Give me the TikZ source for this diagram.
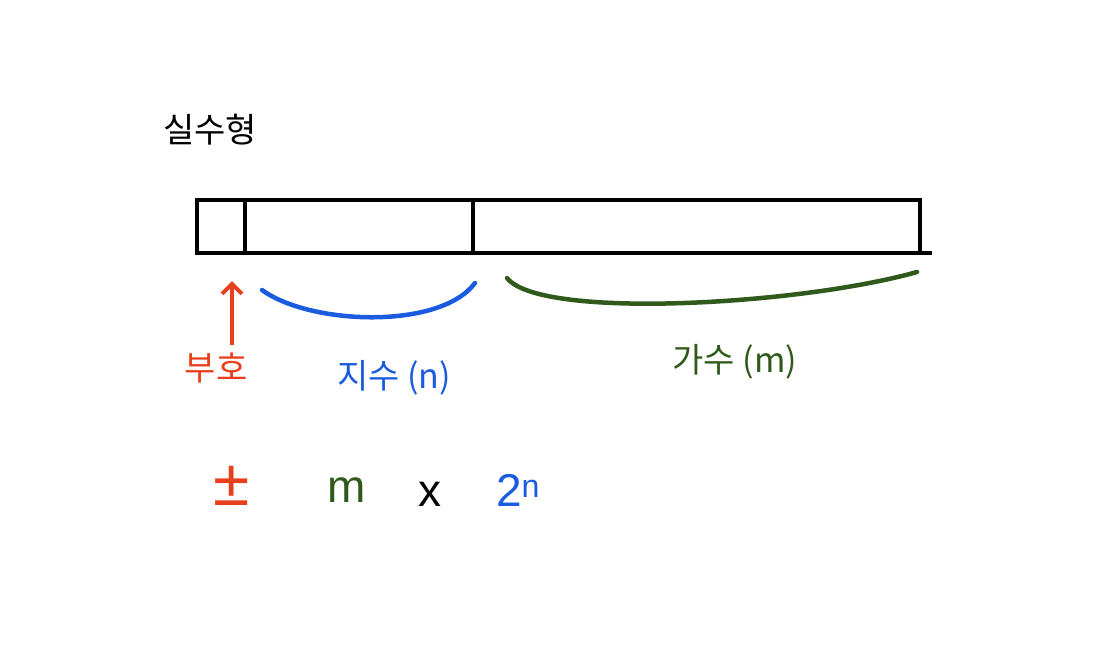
\documentclass[tikz,border=0pt]{standalone}
\usepackage{fontspec}
\setmainfont{Liberation Sans}
\newfontfamily\krfont{Noto Sans CJK KR}
\usetikzlibrary{positioning,arrows.meta,calc}
\definecolor{signred}{HTML}{E8401C}
\definecolor{expblue}{HTML}{1A5CE0}
\definecolor{mantgreen}{HTML}{2F5A1C}

\begin{document}
\begin{tikzpicture}[x=1pt,y=-1pt,
  cell/.style={draw=black, line width=4pt, minimum height=53pt, inner sep=0pt, outer sep=0pt},
  hand/.style={font=\krfont\fontsize{34}{38}\selectfont, inner sep=0pt},
  formula/.style={font=\fontsize{46}{48}\selectfont, inner sep=0pt}]
\useasboundingbox[fill=white] (0,0) rectangle (1107,659);
\node[hand, anchor=west] (title) at (163,130) {실수형};
% bar of three cells
\node[cell, minimum width=48pt, anchor=north west] (signcell) at (197,200) {};
\node[cell, minimum width=228pt, right=0pt of signcell] (expcell) {};
\node[cell, minimum width=447pt, right=0pt of expcell] (mantcell) {};
\coordinate (baseend) at ($(mantcell.south east)+(12,0)$);
\draw[line width=4pt] (mantcell.south east) -- (baseend);
% braces and arrow
\coordinate (signtip) at ($(signcell.south)+(11,28)$);
\coordinate (expl) at ($(expcell.south west)+(17,37)$);
\coordinate (expr) at ($(expcell.south east)+(2,30)$);
\coordinate (mantl) at ($(mantcell.south west)+(34,25)$);
\coordinate (mantr) at ($(mantcell.south east)+(-3,19)$);
\node[hand, text=signred] (signlbl) at (216,368) {부호};
\node[hand, text=expblue] (explbl) at (394,378) {지수 (n)};
\node[hand, text=mantgreen] (mantlbl) at (735,362) {가수 (m)};
\draw[signred, line width=4pt, -{Straight Barb[length=10pt,width=20pt]}] ($(signlbl.north)+(16,-8)$) -- (signtip);
\draw[expblue, line width=4.5pt, line cap=round] (expl) .. controls (310,325) and (440,330) .. (expr);
\draw[mantgreen, line width=4.5pt, line cap=round] (mantl) .. controls (540,320) and (800,305) .. (mantr);
% formula
\node[formula, text=signred, font=\fontsize{66}{68}\selectfont] (pm) at (232,486) {±};
\node[formula, text=mantgreen] (mvar) at (347,490) {m};
\node[formula, text=black] (times) at (430,494) {x};
\node[formula, text=expblue] (pow) at (518,490) {2\textsuperscript{n}};
\end{tikzpicture}
\end{document}
